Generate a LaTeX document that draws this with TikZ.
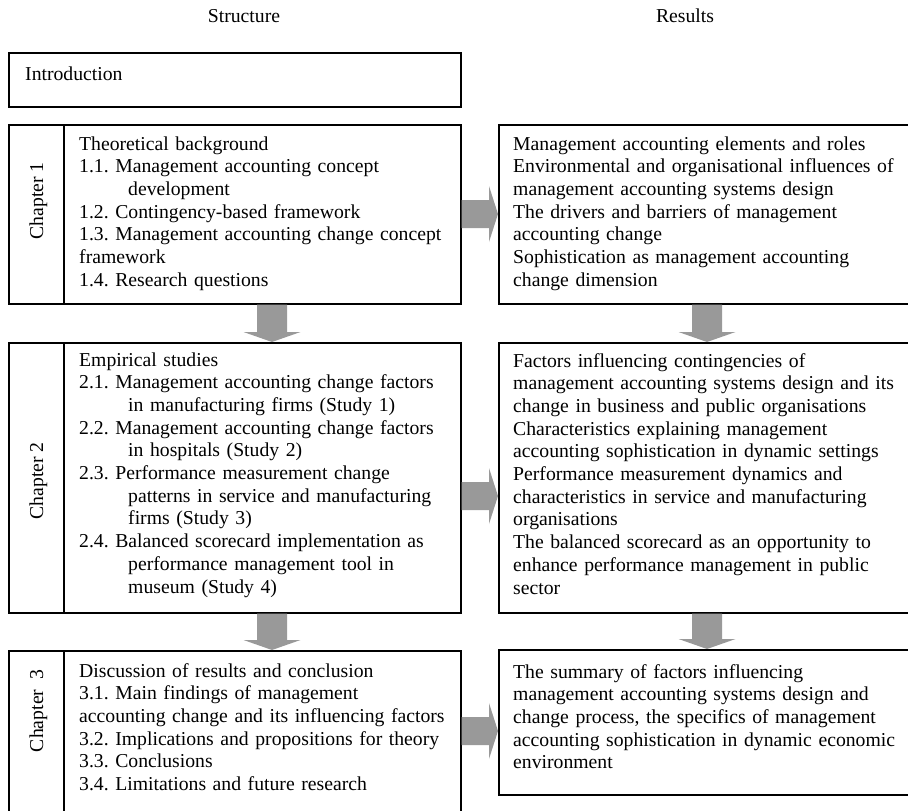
\documentclass[tikz,border=0pt]{standalone}
\usepackage{fontspec}
\setmainfont{Liberation Serif}
\usetikzlibrary{calc}
\definecolor{blockgray}{RGB}{153,153,153}
\frenchspacing

% block arrows: #1 = start point on the source box, #2 = tip on the target box
\newcommand\blockdown[2]{%
  \fill[blockgray] ($#1+(-15,0)$) -- ($#1+(15,0)$) -- ($#2+(15,-10)$)
    -- ($#2+(28.5,-10)$) -- #2 -- ($#2+(-28.5,-10)$) -- ($#2+(-15,-10)$) -- cycle;}
\newcommand\blockright[2]{%
  \fill[blockgray] ($#1+(0,-14)$) -- ($#1+(0,14)$) -- ($#2+(-9,14)$)
    -- ($#2+(-9,28)$) -- #2 -- ($#2+(-9,-28)$) -- ($#2+(-9,-14)$) -- cycle;}

\tikzset{
  frame/.style={draw, line width=1.6pt, inner sep=0pt, anchor=north west},
  body/.style={anchor=base west, inner sep=0pt, align=left,
    font=\fontsize{19.7}{22.7}\selectfont},
  chaplabel/.style={body, rotate=90, anchor=base},
  heading/.style={anchor=base, inner sep=0pt, font=\fontsize{19.7}{22.7}\selectfont},
}
\newcommand\hang{\hspace*{49pt}}

\begin{document}
\begin{tikzpicture}[x=1pt, y=-1pt]
\useasboundingbox (0,0) rectangle (908,811);
\clip (0,0) rectangle (908,811);

% column headings
\node[heading] (hs) at (244,22) {Structure};
\node[heading] (hr) at (685,22) {Results};

% anchor lines for the block arrows
\coordinate (ax) at (272,0);
\coordinate (bx) at (707,0);
\coordinate (h1) at (0,214);
\coordinate (h2) at (0,496);
\coordinate (h3) at (0,731);

% frames
\node[frame, minimum width=452pt, minimum height=54pt] (intro) at (8,52) {};

\node[frame, minimum width=55pt, minimum height=179pt] (c1l) at (8,124) {};
\node[frame, minimum width=397pt, minimum height=179pt] (c1) at (63,124) {};
\node[frame, minimum width=414pt, minimum height=179pt] (r1) at (498,124) {};

\node[frame, minimum width=55pt, minimum height=270pt] (c2l) at (8,342) {};
\node[frame, minimum width=397pt, minimum height=270pt] (c2) at (63,342) {};
\node[frame, minimum width=414pt, minimum height=270pt] (r2) at (498,342) {};

\node[frame, minimum width=55pt, minimum height=170pt] (c3l) at (8,650) {};
\node[frame, minimum width=397pt, minimum height=170pt] (c3) at (63,650) {};
\node[frame, minimum width=414pt, minimum height=145pt] (r3) at (498,649) {};

% block arrows between the frames
\blockright{(c1.east |- h1)}{(r1.west |- h1)}
\blockright{(c2.east |- h2)}{(r2.west |- h2)}
\blockright{(c3.east |- h3)}{(r3.west |- h3)}
\blockdown{(c1.south -| ax)}{(c2.north -| ax)}
\blockdown{(c2.south -| ax)}{(c3.north -| ax)}
\blockdown{(r1.south -| bx)}{(r2.north -| bx)}
\blockdown{(r2.south -| bx)}{(r3.north -| bx)}

% texts
\node[body] (tintro) at (25,80) {Introduction};

\node[chaplabel] (l1) at (43,201) {Chapter 1};
\node[chaplabel] (l2) at (43,481) {Chapter 2};
\node[chaplabel] (l3) at (43,711) {Chapter\ \ 3};

\node[body, text width=380pt] (t1) at (79,150) {Theoretical background\\
1.1. Management accounting concept\\
\hang development\\
1.2. Contingency-based framework\\
1.3. Management accounting change concept\\
framework\\
1.4. Research questions};

\node[body, text width=400pt] (s1) at (513,150) {Management accounting elements and roles\\
Environmental and organisational influences of\\
management accounting systems design\\
The drivers and barriers of management\\
accounting change\\
Sophistication as management accounting\\
change dimension};

\node[body, text width=380pt] (t2) at (79,366) {Empirical studies\\
2.1. Management accounting change factors\\
\hang in manufacturing firms (Study 1)\\
2.2. Management accounting change factors\\
\hang in hospitals (Study 2)\\
2.3. Performance measurement change\\
\hang patterns in service and manufacturing\\
\hang firms (Study 3)\\
2.4. Balanced scorecard implementation as\\
\hang performance management tool in\\
\hang museum (Study 4)};

\node[body, text width=400pt] (s2) at (513,367) {Factors influencing contingencies of\\
management accounting systems design and its\\
change in business and public organisations\\
Characteristics explaining management\\
accounting sophistication in dynamic settings\\
Performance measurement dynamics and\\
characteristics in service and manufacturing\\
organisations\\
The balanced scorecard as an opportunity to\\
enhance performance management in public\\
sector};

\node[body, text width=380pt] (t3) at (79,677) {Discussion of results and conclusion\\
3.1. Main findings of management\\
accounting change and its influencing factors\\
3.2. Implications and propositions for theory\\
3.3. Conclusions\\
3.4. Limitations and future research};

\node[body, text width=400pt] (s3) at (513,678) {The summary of factors influencing\\
management accounting systems design and\\
change process, the specifics of management\\
accounting sophistication in dynamic economic\\
environment};
\end{tikzpicture}
\end{document}
